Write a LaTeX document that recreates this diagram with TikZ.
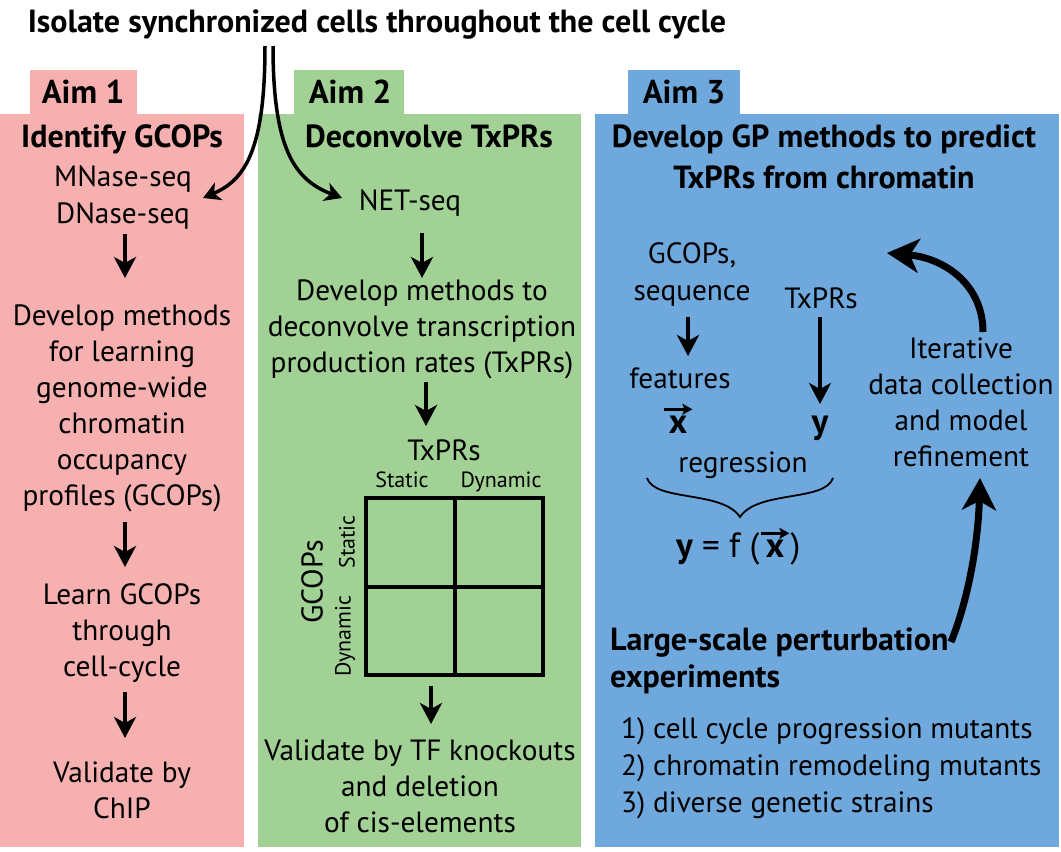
\documentclass[tikz,border=0pt]{standalone}
\usepackage{fontspec}
\setmainfont{PT Sans}
\usetikzlibrary{arrows.meta}
\definecolor{pinkbg}{HTML}{F7B0B0}
\definecolor{greenbg}{HTML}{A1D195}
\definecolor{bluebg}{HTML}{6FA8DC}
\newcommand\fl{\rule{0pt}{21pt}}
\newcommand\flh{\rule{0pt}{23pt}}
\tikzset{
  txt/.style={font=\fontsize{29.3}{36}\selectfont, inner sep=0pt, align=center},
  txtl/.style={font=\fontsize{29.3}{37}\selectfont, inner sep=0pt, align=left},
  headtxt/.style={font=\bfseries\fontsize{32}{41}\selectfont, inner sep=0pt, align=center},
  headl/.style={font=\bfseries\fontsize{32}{37}\selectfont, inner sep=0pt, align=left},
  aimtxt/.style={font=\bfseries\fontsize{33}{36}\selectfont, inner sep=0pt},
  smalltxt/.style={font=\fontsize{22}{24}\selectfont, inner sep=0pt},
  bigtxt/.style={font=\bfseries\fontsize{35}{36}\selectfont, inner sep=0pt},
  eqtxt/.style={font=\fontsize{35}{36}\selectfont, inner sep=0pt},
  darr/.style={line width=4pt, -{Stealth[length=21pt,width=22pt,inset=6pt]}},
  carr/.style={line width=3.5pt, -{Stealth[length=17pt,width=19pt,inset=5pt]}},
  bigarr/.style={line width=7pt, -{Stealth[length=32pt,width=34pt,inset=9pt]}},
  vecarr/.style={line width=3pt, -{Stealth[length=10pt,width=11pt,inset=2pt]}},
  gridbox/.style={draw, line width=4pt, minimum width=177pt, minimum height=177pt, inner sep=0pt},
}
\begin{document}
\begin{tikzpicture}[x=1pt,y=-1pt]
\useasboundingbox (0,0) rectangle (1061,852);
% panels
\fill[pinkbg] (30,70) rectangle (137,115);
\fill[pinkbg] (0,114) rectangle (244,847);
\fill[greenbg] (294,70) rectangle (404,115);
\fill[greenbg] (258,114) rectangle (581,847);
\fill[bluebg] (628,70) rectangle (740,115);
\fill[bluebg] (595,114) rectangle (1059,847);

% title
\node[font=\bfseries\fontsize{32}{36}\selectfont, inner sep=0pt, anchor=base] (title) at (377,32) {Isolate synchronized cells throughout the cell cycle};
\coordinate (s1) at (265,46);
\coordinate (s2) at (273,46);
\coordinate (t1) at (203,198);
\coordinate (t2) at (342,198);
\draw[carr] (s1) .. controls (265,150) and (245,180) .. (t1);
\draw[carr] (s2) .. controls (273,150) and (295,180) .. (t2);

% aim tabs
\node[aimtxt, anchor=base] (aim1) at (83,103) {Aim 1};
\node[aimtxt, anchor=base] (aim2) at (350,103) {Aim 2};
\node[aimtxt, anchor=base] (aim3) at (684,103) {Aim 3};

% ---------- Aim 1
\node[headtxt, anchor=base] (h1) at (122,147) {Identify GCOPs};
\node[txt, anchor=base] (mnase) at (123,186) {MNase-seq};
\node[txt, anchor=base] (dnase) at (123,223) {DNase-seq};
\coordinate (a1s) at (125,234);
\coordinate (a1e) at (125,278);
\draw[darr] (a1s) -- (a1e);
\node[txt, anchor=north] (dev1) at (122,304) {\fl Develop methods\\for learning\\genome-wide\\chromatin\\occupancy\\profiles (GCOPs)};
\coordinate (a2s) at (125,522);
\coordinate (a2e) at (125,567);
\draw[darr] (a2s) -- (a2e);
\node[txt, anchor=north] (learn) at (122,583) {\fl Learn GCOPs\\through\\cell-cycle};
\coordinate (a3s) at (125,692);
\coordinate (a3e) at (125,738);
\draw[darr] (a3s) -- (a3e);
\node[txt, anchor=north] (valid1) at (122,761) {\fl Validate by\\ChIP};

% ---------- Aim 2
\node[headtxt, anchor=base] (h2) at (429,147) {Deconvolve TxPRs};
\node[txt, anchor=base] (netseq) at (410,210) {NET-seq};
\coordinate (b1s) at (422,233);
\coordinate (b1e) at (422,278);
\draw[darr] (b1s) -- (b1e);
\node[txt, anchor=north] (dev2) at (422,279) {\fl Develop methods to\\deconvolve transcription\\production rates (TxPRs)};
\coordinate (b2s) at (426,382);
\coordinate (b2e) at (426,426);
\draw[darr] (b2s) -- (b2e);
\node[txt, anchor=base] (txprs2) at (444,460) {TxPRs};
\node[smalltxt, anchor=base] (cstat) at (402,487) {Static};
\node[smalltxt, anchor=base] (cdyn) at (501,487) {Dynamic};
\node[gridbox] (grid) at (454.5,586.5) {};
\draw[line width=4pt] (grid.north) -- (grid.south);
\draw[line width=4pt] (grid.west) -- (grid.east);
\node[smalltxt, rotate=90] (rstat) at (347,542) {Static};
\node[smalltxt, rotate=90] (rdyn) at (345,636) {Dynamic};
\node[font=\fontsize{30}{32}\selectfont, inner sep=0pt, rotate=90] (gcops2) at (312,582) {GCOPs};
\coordinate (b3s) at (431,686);
\coordinate (b3e) at (431,724);
\draw[darr] (b3s) -- (b3e);
\node[txt, anchor=north] (valid2) at (420,739) {\fl Validate by TF knockouts\\and deletion\\of cis-elements};

% ---------- Aim 3
\node[headtxt, anchor=north] (h3) at (824,124) {\flh Develop GP methods to predict\\TxPRs from chromatin};
\node[txt, anchor=base] (gcops3) at (692,263) {GCOPs,};
\node[txt, anchor=base] (seq3) at (692,300) {sequence};
\node[txt, anchor=base] (txprs3) at (821,308) {TxPRs};
\coordinate (c1s) at (688,317);
\coordinate (c1e) at (688,356);
\draw[darr] (c1s) -- (c1e);
\coordinate (c2s) at (820,317);
\coordinate (c2e) at (820,404);
\draw[darr] (c2s) -- (c2e);
\node[txt, anchor=base] (feat) at (680,388) {features};
\node[bigtxt, anchor=base] (vx1) at (678,433) {x};
\draw[vecarr] ([xshift=-5pt,yshift=6pt]vx1.north west) -- ([xshift=5pt,yshift=6pt]vx1.north east);
\node[bigtxt, anchor=base] (vy1) at (820,433) {y};
\node[txt, anchor=base] (regr) at (743,472) {regression};
\draw[line width=1.8pt] (647,478) .. controls (655,502) and (722,490) .. (740,517)
                         .. controls (758,490) and (825,502) .. (833,478);
\node[eqtxt, anchor=base] (eqx) at (775,557) {\bfseries x};
\node[eqtxt, anchor=base east] (eqL) at ([xshift=-6pt]eqx.base west) {\bfseries y\mdseries\ = f\ (};
\node[eqtxt, anchor=base west] (eqR) at ([xshift=6pt]eqx.base east) {)};
\draw[vecarr] ([xshift=-5pt,yshift=6pt]eqx.north west) -- ([xshift=5pt,yshift=6pt]eqx.north east);

\node[txt, anchor=north] (iter) at (961,337) {\fl Iterative\\data collection\\and model\\refinement};
\coordinate (d1s) at (983,332);
\coordinate (d1e) at (887,253);
\draw[bigarr] (d1s) .. controls (983,285) and (945,258) .. (d1e);
\coordinate (d2s) at (951,642);
\coordinate (d2e) at (980,478);
\draw[bigarr] (d2s) .. controls (968,600) and (978,545) .. (d2e);

\node[headl, anchor=north west] (large) at (610,627) {\flh Large-scale perturbation\\experiments};
\node[txtl, anchor=north west] (items) at (621,717) {\fl 1) cell cycle progression mutants\\2) chromatin remodeling mutants\\3) diverse genetic strains};
\end{tikzpicture}
\end{document}
